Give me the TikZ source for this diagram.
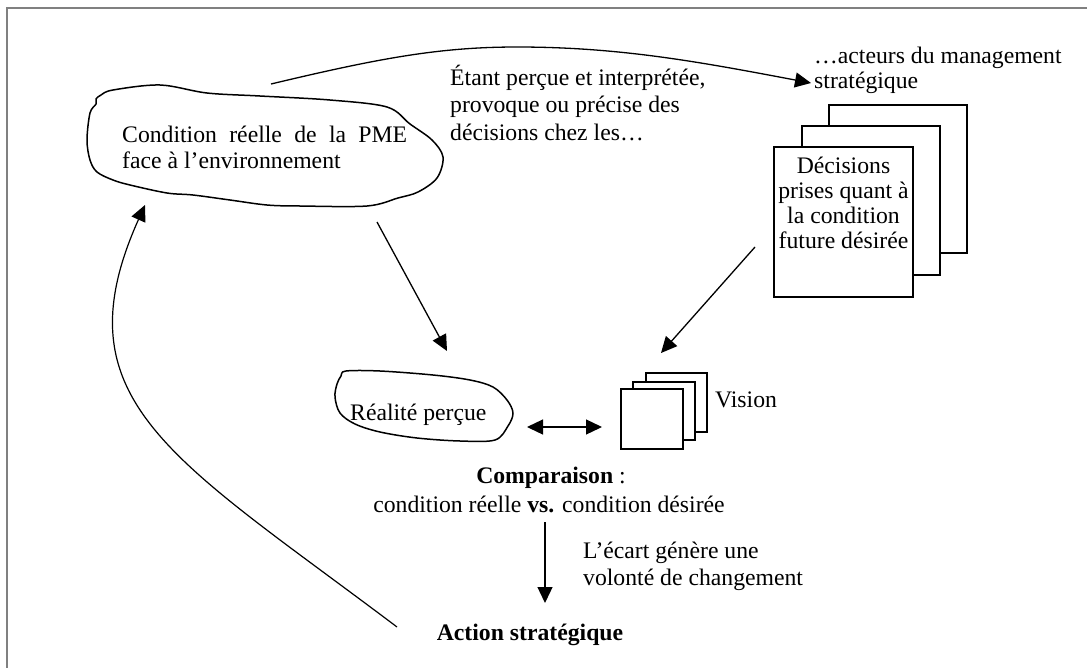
\documentclass[tikz,border=0pt]{standalone}
\usepackage{fontspec}
\setmainfont{Liberation Serif}
\usetikzlibrary{arrows.meta}
\begin{document}
\begin{tikzpicture}[x=1pt,y=-1pt,
  every node/.style={inner sep=0pt, font=\fontsize{23.7}{27}\selectfont},
  txt/.style={anchor=base west},
  ctxt/.style={anchor=base},
  cloudline/.style={line width=1.5pt, line join=round},
  tip/.style={Triangle[length=16pt,width=15pt]},
  conn/.style={line width=1.3pt, -{Triangle[length=16pt,width=15pt]}},
  sheet/.style={draw, line width=1.5pt, fill=white},
  frameline/.style={draw=black!50, line width=2pt}]
\useasboundingbox (0,0) rectangle (1087,667);
% frame
\draw[frameline] (7,680) -- (7,8) -- (1100,8);

% cloud 1 : condition reelle
\draw[cloudline] plot[smooth cycle, tension=0.55] coordinates {
 (87,140) (90,113) (96,104) (96,99) (101,95) (113,90) (160,85) (207,93)
 (260,96) (330,100) (387,107) (410,124) (432,140) (443,157) (437,178)
 (418,192) (398,198) (367,206) (300,206) (267,205) (230,200) (193,195)
 (167,193) (130,185) (113,180) (97,172) (90,160)};
\node[txt] (cr1) at (122,142) {\makebox[285pt][s]{Condition réelle de la PME}};
\node[txt] (cr2) at (122,168) {face à l’environnement};

% cloud 2 : realite percue
\draw[cloudline] plot[smooth cycle, tension=0.55] coordinates {
 (341,376) (346,371) (380,371) (433,375) (470,380) (493,387) (507,400)
 (513,413) (508,426) (495,440) (460,441) (417,438) (380,432) (355,424)
 (340,413) (335,397) (337,384)};
\node[txt] (real) at (350,420) {Réalité perçue};

% decisions stack
\draw[sheet] (829,105) rectangle (967,253);
\draw[sheet] (802,126) rectangle (940,275);
\draw[sheet] (774,147) rectangle (913,297);
\node[ctxt] (d1) at (843.5,173) {Décisions};
\node[ctxt] (d2) at (843.5,198) {prises quant à};
\node[ctxt] (d3) at (843.5,223) {la condition};
\node[ctxt] (d4) at (843.5,248) {future désirée};

% vision stack
\draw[sheet] (646,373) rectangle (707,432);
\draw[sheet] (633,382) rectangle (695,440);
\draw[sheet] (621,389) rectangle (683,449);
\node[txt] (vis) at (715,407) {Vision};

% texts
\node[txt] (act1) at (814,63) {…acteurs du management};
\node[txt] (act2) at (814,88) {stratégique};
\node[txt] (et1) at (450,85) {Étant perçue et interprétée,};
\node[txt] (et2) at (450,112) {provoque ou précise des};
\begin{scope}
\clip (440,60) rectangle (720,143);
\node[txt] (et3) at (450,140) {décisions chez les…};
\end{scope}
\node[ctxt] (cmp1) at (551,483) {\textbf{Comparaison} :};
\node[ctxt] (cmp2) at (549,512) {condition réelle \textbf{vs.} condition désirée};
\node[txt] (ec1) at (583,558) {L’écart génère une};
\node[txt] (ec2) at (583,585) {volonté de changement};
\node[ctxt] (as) at (530,640) {\textbf{Action stratégique}};

% connector end points
\coordinate (topS) at (271,84);
\coordinate (topM) at (517,47);
\coordinate (topE) at (811,83);
\coordinate (c1b) at (377,222);
\coordinate (r1t) at (447,351);
\coordinate (decb) at (755,247);
\coordinate (vist) at (661,353);
\coordinate (dl) at (527,427);
\coordinate (dr) at (602,427);
\coordinate (cmpb) at (545,522);
\coordinate (actt) at (545,603);
\coordinate (acts) at (397,627);
\coordinate (condt) at (145,205);

% connectors
\draw[conn] (topS) .. controls (380,58) and (440,47) .. (topM)
  .. controls (620,47) and (700,62) .. (topE);
\draw[conn] (c1b) -- (r1t);
\draw[conn] (decb) -- (vist);
\draw[line width=1.3pt, {Triangle[length=16pt,width=15pt]}-{Triangle[length=16pt,width=15pt]}] (dl) -- (dr);
\draw[conn] (cmpb) -- (actt);
\draw[conn, line width=1.2pt] (acts) .. controls (173,458) and (57,401) .. (condt);
\end{tikzpicture}
\end{document}
